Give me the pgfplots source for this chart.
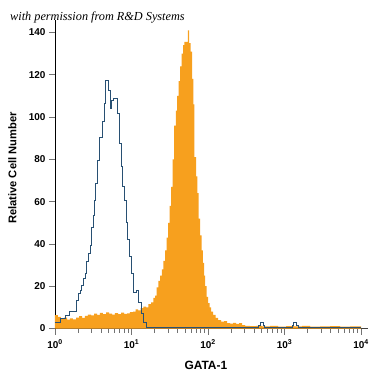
\documentclass[border=0pt]{standalone}
\usepackage{pgfplots}
\pgfplotsset{compat=1.18}
\usepackage{fontspec}
\setmainfont{Liberation Sans}
\newfontfamily\serifit{Liberation Serif}
\definecolor{orangefill}{RGB}{247,160,30}
\definecolor{blueline}{RGB}{40,80,115}
\begin{document}
\begin{tikzpicture}
\useasboundingbox (-55bp,-46.5bp) rectangle (320bp,328.5bp);
\begin{axis}[
 at={(0,0)}, anchor=south west,
 scale only axis, width=313bp, height=308.5bp,
 xmin=0, xmax=4.09, ymin=0, ymax=145.9,
 axis x line=bottom, axis y line=left,
 x axis line style={-, draw=black!75, line width=0.8bp},
 y axis line style={-, draw=black, line width=0.8bp},
 tick align=outside,
 xtick={0,1,2,3,4},
 xticklabels={10\textsuperscript{0},10\textsuperscript{1},10\textsuperscript{2},10\textsuperscript{3},10\textsuperscript{4}},
 minor xtick={0.301,0.477,0.602,0.699,0.778,0.845,0.903,0.954,
   1.301,1.477,1.602,1.699,1.778,1.845,1.903,1.954,
   2.301,2.477,2.602,2.699,2.778,2.845,2.903,2.954,
   3.301,3.477,3.602,3.699,3.778,3.845,3.903,3.954},
 ytick={0,20,40,60,80,100,120,140},
 yticklabels={0,20,40,60,80,100,120,140},
 major tick length=6bp, minor tick length=4bp,
 every tick/.style={draw=black!55, line width=0.6bp},
 ticklabel style={font=\bfseries\fontsize{10}{12}\selectfont},
 xticklabel style={yshift=-2bp},
 xlabel={GATA-1}, ylabel={Relative Cell Number},
 every axis x label/.style={at={(rel axis cs:0.482,-0.118)},anchor=center,font=\bfseries\fontsize{12}{14}\selectfont},
 every axis y label/.style={at={(rel axis cs:-0.1358,0.52)},anchor=center,rotate=90,font=\bfseries\fontsize{11.2}{13}\selectfont},
]
\addplot[const plot, fill=orangefill, draw=none] coordinates {
(0.000,6.3)(0.039,5.5)(0.078,4.6)(0.118,5.2)(0.157,4.2)(0.196,4.8)(0.235,4.3)(0.275,5.2)
(0.314,5.8)(0.353,5.0)(0.392,6.0)(0.431,6.6)(0.471,6.2)(0.510,7.0)(0.549,6.5)(0.588,7.4)
(0.627,6.8)(0.667,7.6)(0.706,7.0)(0.745,6.6)(0.784,7.3)(0.824,6.8)(0.863,7.5)(0.902,6.9)
(0.941,7.2)(0.980,7.8)(1.020,8.0)(1.052,9.0)(1.085,8.6)(1.118,9.6)(1.154,10.3)(1.190,10.0)
(1.220,11.5)(1.255,12.3)(1.285,14.5)(1.307,15.5)(1.329,19.5)(1.350,22.5)(1.373,25)(1.395,28)
(1.416,32)(1.438,37)(1.458,43)(1.477,50)(1.497,58)(1.516,67)(1.536,80)(1.558,96)
(1.579,103)(1.597,110)(1.616,117)(1.634,124)(1.654,130)(1.673,134)(1.690,135.5)(1.735,141)
(1.752,135)(1.771,131)(1.791,118)(1.807,106)(1.821,81)(1.843,72)(1.860,64)(1.876,52)
(1.895,44)(1.915,37)(1.932,31)(1.948,25)(1.963,20)(1.980,15)(2.000,12)(2.020,10)
(2.039,8)(2.065,6.5)(2.098,5.0)(2.131,4.0)(2.170,3.3)(2.209,3.5)(2.248,2.6)(2.288,2.3)
(2.327,2.7)(2.366,2.2)(2.405,2.5)(2.444,1.6)(2.484,1.3)(2.549,1.1)(2.627,1.3)(2.706,1.0)
(2.810,1.2)(2.915,0.9)(3.020,1.1)(3.124,1.0)(3.229,1.2)(3.333,0.9)(3.464,1.0)(3.595,1.1)
(3.725,0.9)(3.856,1.0)(4.000,1.0)
} \closedcycle;
\addplot[const plot, draw=blueline, line width=0.8bp] coordinates {
(0.000,3.1)(0.065,4.7)(0.137,6.4)(0.183,7.9)(0.275,13.5)(0.301,16.5)(0.327,18)(0.349,20.5)
(0.370,23.8)(0.392,26)(0.414,31.5)(0.435,35.5)(0.458,39.5)(0.480,48)(0.501,53.7)(0.514,60.5)
(0.529,68.6)(0.556,79.4)(0.582,90.5)(0.614,97.8)(0.641,106.5)(0.663,117.5)(0.699,112.7)(0.722,104)
(0.741,108)(0.758,108.8)(0.817,101.7)(0.841,87.5)(0.863,76.5)(0.885,67)(0.908,60.7)(0.928,50)
(0.948,42)(0.974,34)(1.000,26)(1.026,17)(1.065,17.8)(1.092,12.5)(1.127,7)(1.157,3)
(1.190,0.6)(1.229,0.3)(2.660,1.5)(2.680,2.8)(2.720,1.5)(2.740,0.3)(3.098,1.5)(3.118,2.8)
(3.157,1.5)(3.176,0.3)(4.000,0.3)
};
\end{axis}
\node[anchor=base west, font=\serifit\itshape\fontsize{12.3}{15}\selectfont, inner sep=0pt] at (-45bp,307.5bp) {with permission from R\&D Systems};
\end{tikzpicture}
\end{document}
